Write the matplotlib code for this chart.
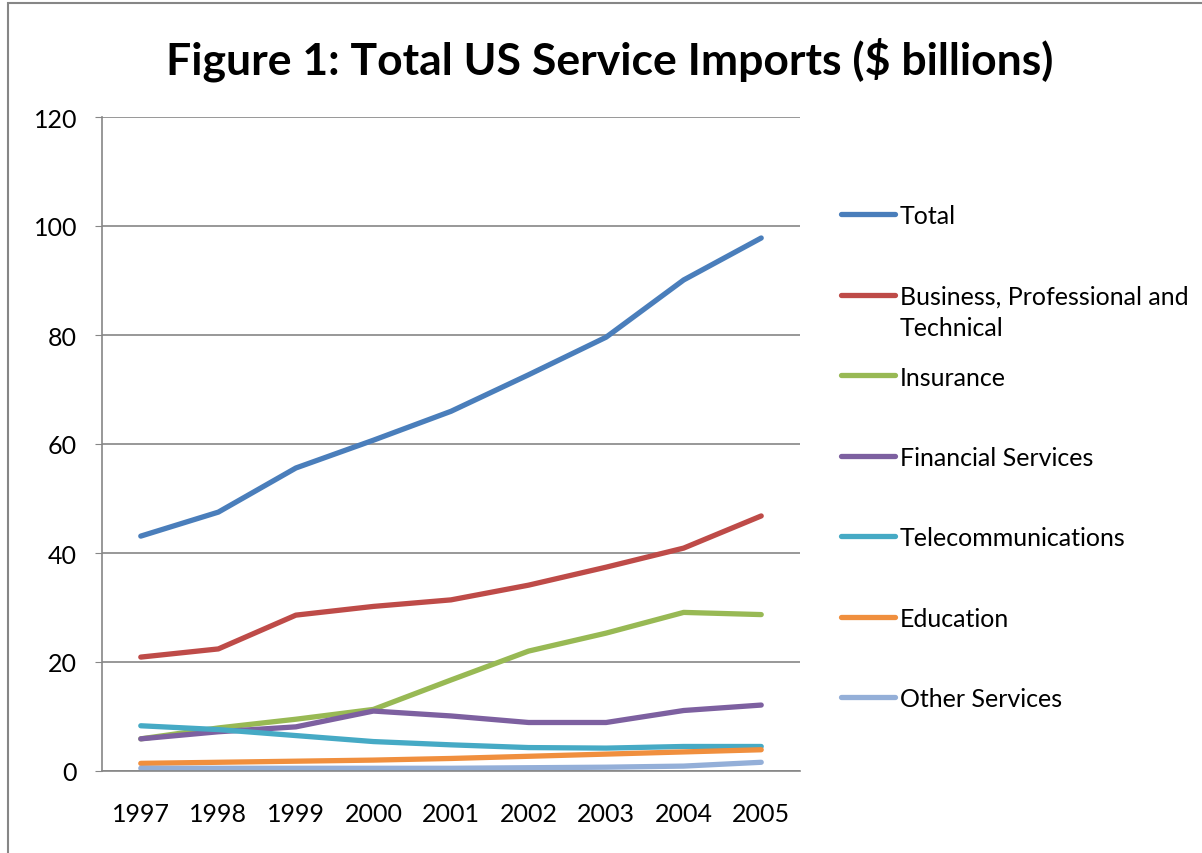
import matplotlib.pyplot as plt
from matplotlib.lines import Line2D
from matplotlib.patches import Rectangle

# Data
years = ["1997", "1998", "1999", "2000", "2001", "2002", "2003", "2004", "2005"]
total = [43.1, 47.5, 55.6, 60.7, 66.0, 72.7, 79.6, 90.1, 97.8]
business = [20.9, 22.4, 28.6, 30.2, 31.4, 34.1, 37.4, 40.9, 46.8]
insurance = [5.9, 7.9, 9.5, 11.3, 16.7, 22.0, 25.3, 29.1, 28.7]
financial = [5.9, 7.2, 8.1, 11.0, 10.1, 8.9, 8.9, 11.1, 12.1]
telecom = [8.3, 7.6, 6.5, 5.4, 4.8, 4.3, 4.2, 4.5, 4.5]
education = [1.4, 1.6, 1.8, 2.0, 2.3, 2.7, 3.1, 3.5, 3.9]
other = [0.5, 0.5, 0.5, 0.5, 0.5, 0.6, 0.7, 0.9, 1.6]

series = [
    ("Total", total, "#4A7EBB"),
    ("Business, Professional and\nTechnical", business, "#BE4B48"),
    ("Insurance", insurance, "#98B954"),
    ("Financial Services", financial, "#7D60A0"),
    ("Telecommunications", telecom, "#46AAC5"),
    ("Education", education, "#F08F3E"),
    ("Other Services", other, "#94AFD8"),
]

plt.rcParams["font.family"] = ["Lato", "DejaVu Sans"]

W, H = 1202, 854
fig = plt.figure(figsize=(W / 100, H / 100), dpi=100)
ax = fig.add_axes([102 / W, 1 - 772 / H, (800 - 102) / W, (772 - 118) / H])

x = list(range(len(years)))
for name, vals, col in series:
    ax.plot(x, vals, color=col, linewidth=3.8, solid_capstyle="round",
            solid_joinstyle="round")

ax.set_xlim(-0.5, len(years) - 0.5)
ax.set_ylim(0, 120)
ax.set_yticks(range(0, 121, 20))
ax.set_xticks(x)
ax.set_xticklabels(years)
ax.grid(axis="y", color="#868686", linewidth=1.2)
ax.set_axisbelow(True)
for s in ["top", "right"]:
    ax.spines[s].set_visible(False)
for s in ["left", "bottom"]:
    ax.spines[s].set_color("#868686")
    ax.spines[s].set_linewidth(1.2)
ax.tick_params(axis="y", direction="out", length=5, color="#868686",
               labelsize=18, pad=13)
ax.tick_params(axis="x", length=0, labelsize=18, pad=22)

fig.text(610 / W, 1 - 60 / H, "Figure 1: Total US Service Imports ($ billions)",
         ha="center", va="center", fontsize=32, fontweight="bold")

# legend drawn by hand to keep entries evenly spaced
for i, (name, vals, col) in enumerate(series):
    yy = 215 + 80.5 * i
    fig.add_artist(Line2D([841 / W, 895 / W], [1 - yy / H, 1 - yy / H],
                          color=col, linewidth=3.8, solid_capstyle="round"))
    for j, part in enumerate(name.split("\n")):
        fig.text(900 / W, 1 - (yy + 2 + 31 * j) / H, part, ha="left",
                 va="center", fontsize=18)

fig.add_artist(Rectangle((8 / W, -0.05), 1.1, 1 - 4 / H + 0.05, fill=False,
                         edgecolor="#868686", linewidth=1.5,
                         transform=fig.transFigure))

fig.savefig("out.png", dpi=100)
